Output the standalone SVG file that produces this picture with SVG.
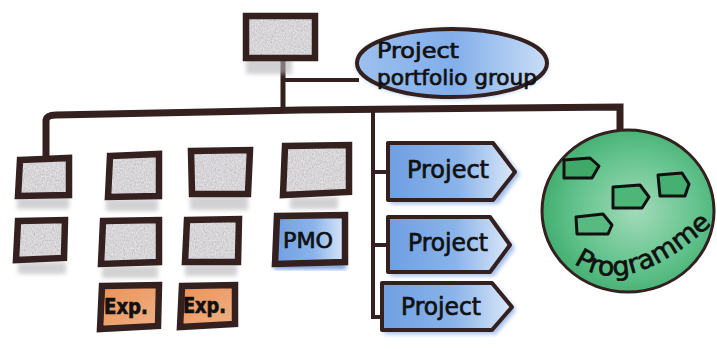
<svg xmlns="http://www.w3.org/2000/svg" width="717" height="349" viewBox="0 0 717 349">
  <defs>
    <style>
      .ink { fill: none; stroke: #33201f; stroke-linecap: square; }
      .frame { fill: none; stroke: #33201f; stroke-width: 6.5; stroke-linejoin: miter; }
      .gray { fill: #dcdadc; filter: url(#grain); }
      .smudge { fill: #b4b2b5; opacity: 0.6; filter: url(#soft); }
      .label { font-family: "DejaVu Sans", "Noto Sans", sans-serif; fill: #111; stroke: #111; stroke-width: 0.7; }
      .blueHaze { fill: #4f86dc; opacity: 0.55; filter: url(#soft); }
    </style>
    <filter id="grain" x="0" y="0" width="100%" height="100%">
      <feTurbulence type="fractalNoise" baseFrequency="0.9 0.5" numOctaves="3" seed="4" result="n"/>
      <feColorMatrix in="n" type="matrix" values="0.33 0.33 0.33 0 0  0.33 0.33 0.33 0 0  0.33 0.33 0.33 0 0  0 0 0 0 1" result="g"/>
      <feComposite in="SourceGraphic" in2="g" operator="arithmetic" k1="0.9" k2="0.5" k3="0" k4="0" result="m"/>
      <feComposite in="m" in2="SourceGraphic" operator="in"/>
    </filter>
    <filter id="soft" x="-20%" y="-40%" width="140%" height="180%">
      <feGaussianBlur stdDeviation="2"/>
    </filter>
    <linearGradient id="blueFill" x1="0" y1="0" x2="1" y2="0">
      <stop offset="0" stop-color="#6f9fe2"/>
      <stop offset="0.55" stop-color="#8ab3ea"/>
      <stop offset="1" stop-color="#dbe8f8"/>
    </linearGradient>
    <linearGradient id="blueOval" x1="0" y1="0" x2="1" y2="0">
      <stop offset="0" stop-color="#9cc0ef"/>
      <stop offset="0.5" stop-color="#82aeea"/>
      <stop offset="1" stop-color="#c9ddf6"/>
    </linearGradient>
    <radialGradient id="greenFill" cx="0.55" cy="0.5" r="0.6">
      <stop offset="0" stop-color="#a2dbb9"/>
      <stop offset="0.6" stop-color="#62c28c"/>
      <stop offset="1" stop-color="#3aa968"/>
    </radialGradient>
    <linearGradient id="orangeFill" x1="0" y1="0" x2="1" y2="1">
      <stop offset="0" stop-color="#ea9156"/>
      <stop offset="1" stop-color="#f0b286"/>
    </linearGradient>
    <path id="progArc" d="M 572 262 Q 625 302 710 226"/>
  </defs>

  <rect width="717" height="349" fill="#ffffff"/>

  <!-- connectors -->
  <g id="connectors">
    <path class="ink" stroke-width="7" d="M 46 154 L 46 120 Q 47 115 56 115 L 300 110 L 620 107 L 620 127"/>
    <path class="ink" stroke-width="5" d="M 283 61 L 283 108"/>
    <path class="ink" stroke-width="4" d="M 283 80 L 357 80"/>
    <path class="ink" stroke-width="4" d="M 373 109 L 373 317 L 382 317"/>
    <path class="ink" stroke-width="4" d="M 373 172 L 386 172"/>
    <path class="ink" stroke-width="4" d="M 373 245 L 386 245"/>
  </g>

  <!-- top management box -->
  <g id="top-box">
    <rect class="smudge" x="246" y="56" width="46" height="18"/>
    <rect class="gray" x="246" y="16" width="69" height="42"/>
    <rect class="frame" x="246" y="16" width="69" height="42"/>
  </g>

  <!-- portfolio group oval -->
  <g id="portfolio-group">
    <ellipse class="blueHaze" cx="452" cy="64" rx="96" ry="35"/>
    <ellipse cx="452" cy="63" rx="95" ry="34" fill="url(#blueOval)" stroke="#33201f" stroke-width="4"/>
    <text class="label" x="377" y="58" font-size="21" textLength="82" lengthAdjust="spacingAndGlyphs">Project</text>
    <text class="label" x="377" y="85" font-size="21" textLength="160" lengthAdjust="spacingAndGlyphs">portfolio group</text>
  </g>

  <!-- departmental boxes -->
  <g id="box-1">
    <rect class="smudge" x="17" y="197" width="52" height="12"/>
    <rect class="gray" x="18" y="160" width="51" height="35"/>
    <path class="frame" d="M 20 160 L 69 158 L 69 195 L 18 196 Z"/>
  </g>
  <g id="box-2">
    <rect class="smudge" x="106" y="199" width="52" height="12"/>
    <rect class="gray" x="108" y="156" width="51" height="41"/>
    <path class="frame" d="M 110 156 L 159 154 L 159 196 L 108 197 Z"/>
  </g>
  <g id="box-3">
    <rect class="smudge" x="190" y="196" width="58" height="14"/>
    <rect class="gray" x="191" y="151" width="59" height="43"/>
    <path class="frame" d="M 191 151 L 250 150 L 248 194 L 192 194 Z"/>
  </g>
  <g id="box-4">
    <rect class="smudge" x="290" y="197" width="48" height="12"/>
    <rect class="gray" x="283" y="146" width="66" height="49"/>
    <path class="frame" d="M 285 146 L 349 145 L 349 192 L 283 195 Z"/>
  </g>
  <g id="box-5">
    <rect class="smudge" x="18" y="262" width="48" height="12"/>
    <rect class="gray" x="16" y="221" width="49" height="39"/>
    <path class="frame" d="M 18 221 L 65 220 L 64 258 L 16 260 Z"/>
  </g>
  <g id="box-6">
    <rect class="smudge" x="102" y="266" width="56" height="12"/>
    <rect class="gray" x="101" y="221" width="58" height="43"/>
    <path class="frame" d="M 103 221 L 159 220 L 159 262 L 101 264 Z"/>
  </g>
  <g id="box-7">
    <rect class="smudge" x="185" y="264" width="52" height="12"/>
    <rect class="gray" x="185" y="220" width="54" height="42"/>
    <path class="frame" d="M 187 220 L 239 219 L 238 262 L 185 262 Z"/>
  </g>
  <g id="pmo">
    <rect x="274" y="264" width="72" height="5" fill="#3f74d4" opacity="0.8" filter="url(#soft)"/>
    <rect x="275" y="216" width="70" height="48" fill="url(#blueFill)"/>
    <path class="frame" d="M 277 216 L 345 215 L 345 262 L 275 264 Z"/>
    <text class="label" x="283" y="248" font-size="21" textLength="50" lengthAdjust="spacingAndGlyphs">PMO</text>
  </g>
  <g id="exp-1">
    <rect x="100" y="286" width="59" height="43" fill="url(#orangeFill)"/>
    <path class="frame" d="M 102 286 L 159 285 L 158 326 L 100 329 Z"/>
    <text class="label" x="104" y="314" font-size="21" font-weight="bold" textLength="44" lengthAdjust="spacingAndGlyphs">Exp.</text>
  </g>
  <g id="exp-2">
    <rect x="180" y="286" width="55" height="41" fill="url(#orangeFill)"/>
    <path class="frame" d="M 182 286 L 235 285 L 235 324 L 180 327 Z"/>
    <text class="label" x="183" y="313" font-size="21" font-weight="bold" textLength="43" lengthAdjust="spacingAndGlyphs">Exp.</text>
  </g>

  <!-- projects -->
  <g id="project-1">
    <path class="blueHaze" d="M 392 147 L 497 145 L 520 174 L 498 204 L 390 204 Z"/>
    <path d="M 388 143 L 493 143 L 515 172 L 493 200 L 388 200 Z" fill="url(#blueFill)" stroke="#33201f" stroke-width="4" stroke-linejoin="round"/>
    <text class="label" x="407" y="178" font-size="24" textLength="82" lengthAdjust="spacingAndGlyphs">Project</text>
  </g>
  <g id="project-2">
    <path class="blueHaze" d="M 392 221 L 494 220 L 515 248 L 494 276 L 390 276 Z"/>
    <path d="M 388 217 L 490 217 L 510 245 L 490 272 L 388 272 Z" fill="url(#blueFill)" stroke="#33201f" stroke-width="4" stroke-linejoin="round"/>
    <text class="label" x="408" y="251" font-size="24" textLength="80" lengthAdjust="spacingAndGlyphs">Project</text>
  </g>
  <g id="project-3">
    <path class="blueHaze" d="M 386 287 L 496 286 L 516 310 L 496 334 L 384 334 Z"/>
    <path d="M 382 283 L 492 283 L 512 307 L 492 330 L 382 330 Z" fill="url(#blueFill)" stroke="#33201f" stroke-width="4" stroke-linejoin="round"/>
    <text class="label" x="401" y="315" font-size="24" textLength="80" lengthAdjust="spacingAndGlyphs">Project</text>
  </g>

  <!-- programme -->
  <g id="programme">
    <ellipse cx="628" cy="211" rx="86" ry="81" fill="url(#greenFill)" stroke="#33201f" stroke-width="3"/>
    <g fill="none" stroke="#111" stroke-width="3" stroke-linejoin="round">
      <path d="M 564 160 L 590 158 L 599 166 L 592 178 L 564 178 Z" fill="#3faa68"/>
      <path d="M 613 187 L 640 185 L 649 197 L 642 208 L 613 208 Z" fill="#4fb679"/>
      <path d="M 658 175 L 682 173 L 689 184 L 685 196 L 660 196 Z" fill="#45b071"/>
      <path d="M 576 217 L 603 214 L 612 225 L 608 234 L 577 234 Z" fill="#58ba80"/>
    </g>
    <text class="label" font-size="26"><textPath href="#progArc" startOffset="2" textLength="156" lengthAdjust="spacingAndGlyphs">Programme</textPath></text>
  </g>
</svg>
